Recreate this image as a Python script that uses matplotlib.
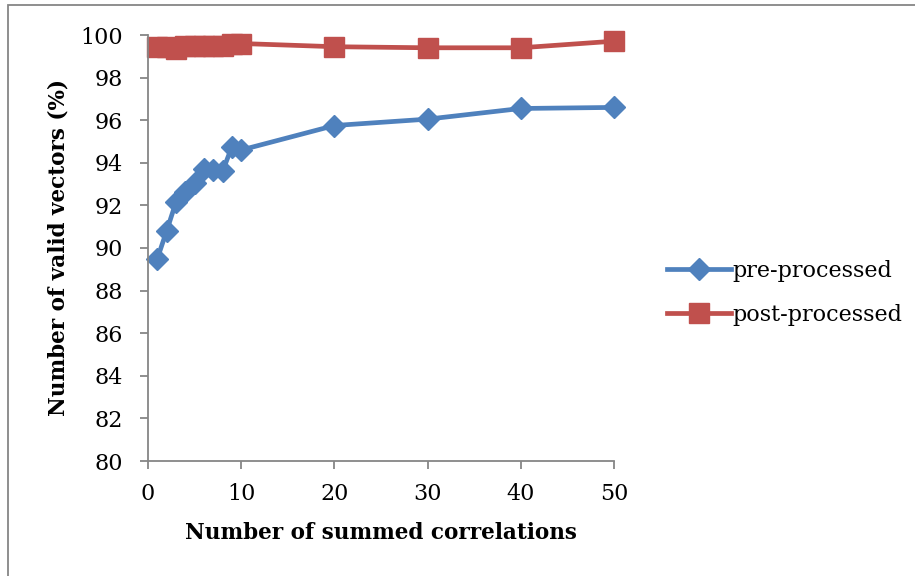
import numpy as np
import matplotlib
matplotlib.use("Agg")
import matplotlib.pyplot as plt
from matplotlib.patches import Rectangle

plt.rcParams['font.family'] = ['DejaVu Serif']

# number of summed correlations
n_summed = [1, 2, 3, 4, 5, 6, 7, 8, 9, 10, 20, 30, 40, 50]
# valid vectors (%) before and after post-processing
pre_processed = [89.5, 90.8, 92.15, 92.65, 93.05, 93.72, 93.68, 93.6, 94.75, 94.6, 95.75, 96.05, 96.55, 96.6]
post_processed = [99.42, 99.42, 99.32, 99.49, 99.49, 99.5, 99.5, 99.5, 99.6, 99.6, 99.45, 99.4, 99.4, 99.71]

blue = '#4F81BD'
red = '#C0504D'
axis_grey = '#868686'

fig = plt.figure(figsize=(9.15, 5.76), dpi=100)
ax = fig.add_axes([148/915, 1 - 461/576, (614-148)/915, (461-35)/576])

ax.plot(n_summed, pre_processed, color=blue, lw=3.4, marker='D', ms=11,
        mec=blue, mfc=blue, label='pre-processed', solid_joinstyle='round')
ax.plot(n_summed, post_processed, color=red, lw=3.4, marker='s', ms=14,
        mec=red, mfc=red, label='post-processed', solid_joinstyle='round')

ax.set_xlim(0, 50)
ax.set_ylim(80, 100)
ax.set_xticks(np.arange(0, 51, 10))
ax.set_yticks(np.arange(80, 101, 2))
for side in ['top', 'right']:
    ax.spines[side].set_visible(False)
for side in ['left', 'bottom']:
    ax.spines[side].set_color(axis_grey)
    ax.spines[side].set_linewidth(1.3)
ax.tick_params(axis='both', colors=axis_grey, labelcolor='black',
               labelsize=16, length=6, width=1.3, direction='out')
ax.tick_params(axis='y', pad=12)
ax.tick_params(axis='x', pad=10)
for line in ax.lines:
    line.set_clip_on(False)

ax.set_xlabel('Number of summed correlations', fontsize=15.5, fontweight='bold', labelpad=12)
ax.set_ylabel('Number of valid vectors (%)', fontsize=15.5, fontweight='bold', labelpad=8)

leg = fig.legend(loc='center left', bbox_to_anchor=(647/915, 1 - 293/576),
                 frameon=False, fontsize=16, handlelength=2.9,
                 handletextpad=0.05, labelspacing=1.0)

# chart area frame
fig.patches.append(Rectangle((8/915, -0.1), 1.2, 1.1 - 5/576, transform=fig.transFigure,
                             fill=False, edgecolor=axis_grey, lw=1.3))

fig.savefig('out.png', dpi=100)
